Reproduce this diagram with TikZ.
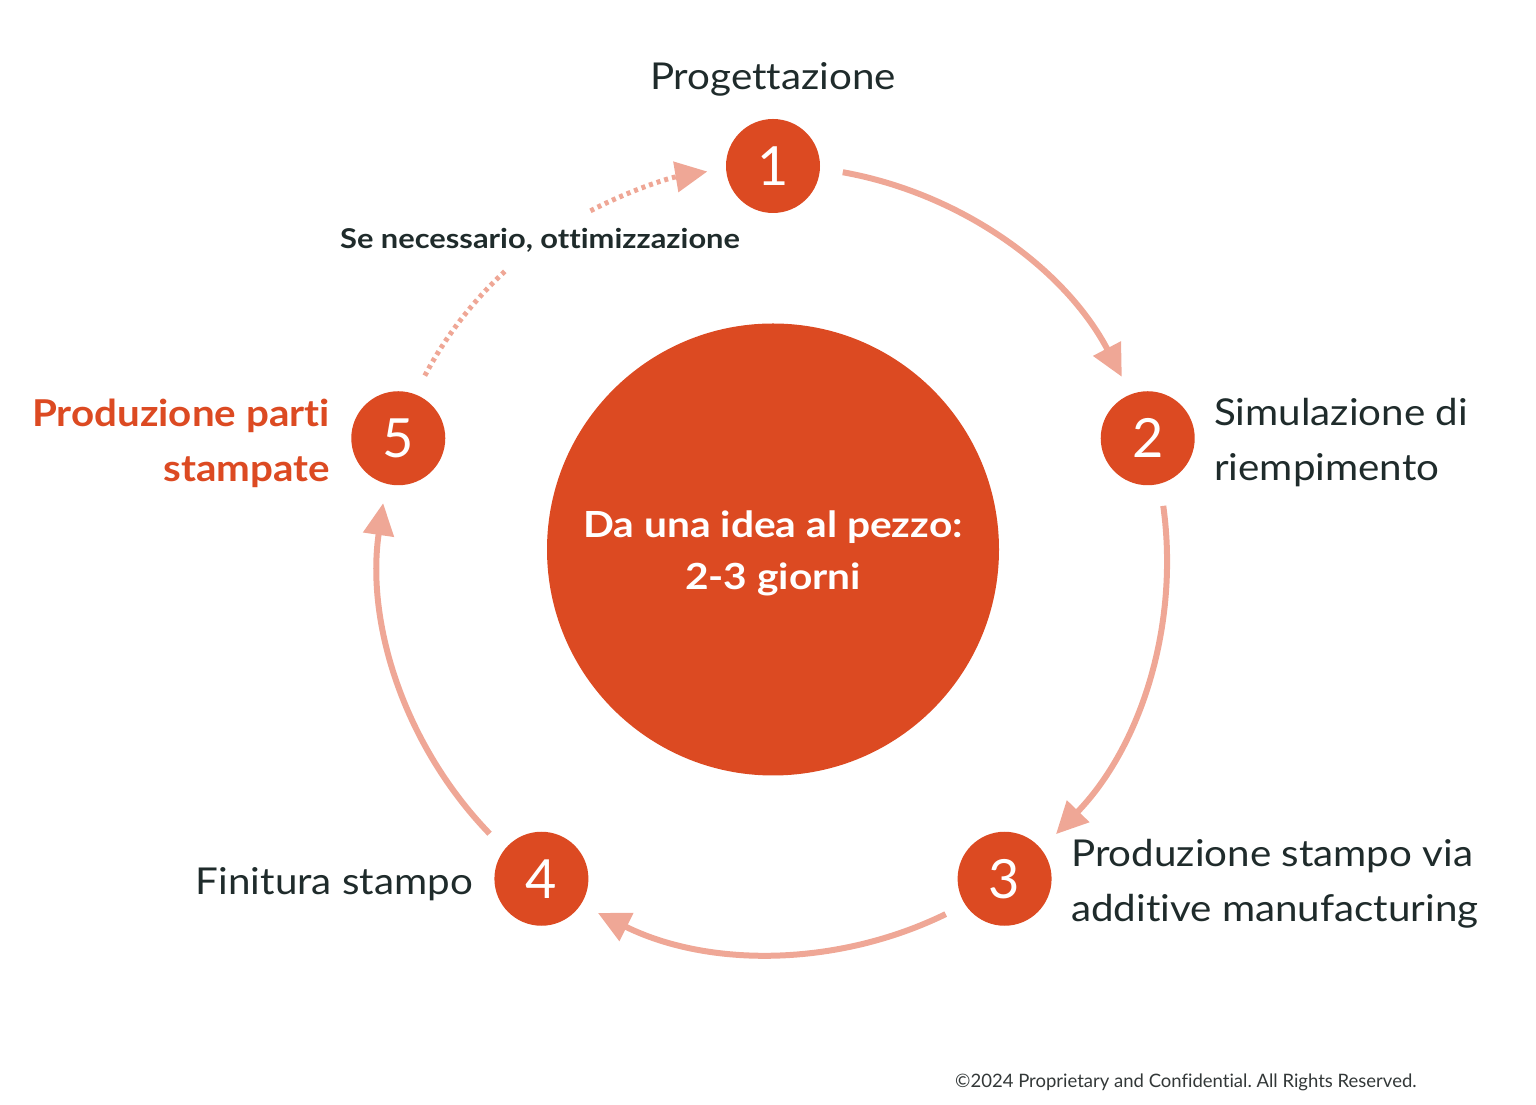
\documentclass[tikz,border=0pt]{standalone}
\usepackage{fontspec}
\setmainfont{Lato}[Ligatures=CommonOff]
\newfontfamily\latolbl{Lato}[FakeStretch=1.09, Ligatures=CommonOff]
\newfontfamily\latolblb{Lato}[FakeStretch=1.09, Ligatures=CommonOff]
\newfontfamily\latowide{Lato}[FakeStretch=1.13, Ligatures=CommonOff]
\usetikzlibrary{arrows.meta}
\definecolor{cred}{HTML}{DC4A22}
\definecolor{carrow}{HTML}{EFA796}
\definecolor{ctext}{HTML}{1F2B2B}
\definecolor{cgrey}{HTML}{333838}
\begin{document}
\frenchspacing
\begin{tikzpicture}[x=1pt,y=1pt,
  stepcirc/.style={circle, fill=cred, minimum size=94pt, inner sep=0pt, text=white, font=\fontsize{54}{54}\selectfont},
  flow/.style={draw=carrow, line width=6pt, -{Triangle[length=32pt,width=30pt]}},
  dots/.style={draw=carrow, line width=5pt, dash pattern=on 4pt off 4pt},
  lbl/.style={text=ctext, font=\latolbl\fontsize{37}{55}\selectfont, inner sep=0pt},
]
\useasboundingbox (0,0) rectangle (1536,1105);
\coordinate (pc) at (773,545);
\node[circle, fill=cred, minimum size=452pt, inner sep=0pt] (hub) at (773,555.5) {};
\node[text=white, inner sep=0pt, font=\latowide\bfseries\fontsize{36}{51.5}\selectfont, align=center] (hubtxt) at (773,551.5)
      {Da una idea al pezzo:\\2-3 giorni};
\node[stepcirc] (s1) at ([shift={(90:394)}]pc) {1};
\node[stepcirc] (s2) at ([shift={(18:394)}]pc) {2};
\node[stepcirc] (s3) at ([shift={(-54:394)}]pc) {3};
\node[stepcirc] (s4) at ([shift={(-126:394)}]pc) {4};
\node[stepcirc] (s5) at ([shift={(162:394)}]pc) {5};

\node[lbl, anchor=base] (l1) at (773,1015) {Progettazione};
\node[lbl, anchor=west, align=left] (l2) at (1214,662) {Simulazione di\\riempimento};
\node[lbl, anchor=west, align=left] (l3) at (1071,221) {Produzione stampo via\\additive manufacturing};
\node[lbl, anchor=base east] (l4) at (473,210) {Finitura stampo};
\node[lbl, anchor=east, align=right, text=cred, font=\latolblb\bfseries\fontsize{37}{55}\selectfont] (l5) at (330,662) {Produzione parti\\stampate};
\node[text=ctext, inner sep=0pt, font=\latowide\bfseries\fontsize{27.3}{27.3}\selectfont, anchor=base] (opt) at (540,856) {Se necessario, ottimizzazione};
\node[text=cgrey, inner sep=0pt, font=\fontsize{18.5}{18.5}\selectfont, anchor=base west] (cr) at (955,17) {©2024 Proprietary and Confidential. All Rights Reserved.};

\draw[flow] ([shift={(79.8:394)}]pc) arc[start angle=79.8, end angle=27.7, radius=394];
\draw[flow] ([shift={(7.9:394)}]pc) arc[start angle=7.9, end angle=-44.1, radius=394];
\draw[flow] ([shift={(-64:394)}]pc) arc[start angle=-64, end angle=-116.4, radius=394];
\draw[flow] ([shift={(-136:394)}]pc) arc[start angle=-136, end angle=-188.3, radius=394];
\draw[dots] ([shift={(152.1:394)}]pc) arc[start angle=152.1, end angle=132.7, radius=394];
\draw[dots, -{Triangle[length=32pt,width=30pt]}] ([shift={(117.6:394)}]pc) arc[start angle=117.6, end angle=99.6, radius=394];
\end{tikzpicture}
\end{document}
